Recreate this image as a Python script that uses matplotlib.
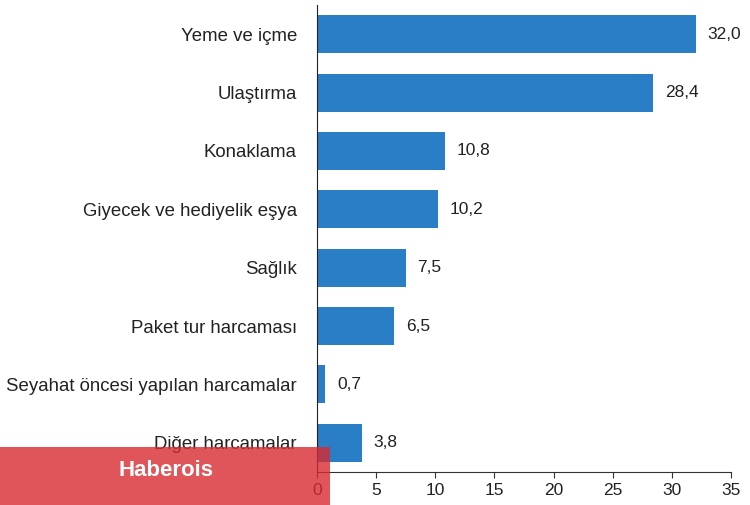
import matplotlib.pyplot as plt
from matplotlib.patches import Rectangle

plt.rcParams['font.family'] = ['Liberation Sans', 'DejaVu Sans']

# harcama turleri ve paylari (%)
categories = ['Yeme ve içme', 'Ulaştırma', 'Konaklama', 'Giyecek ve hediyelik eşya',
              'Sağlık', 'Paket tur harcaması', 'Seyahat öncesi yapılan harcamalar',
              'Diğer harcamalar']
values = [32.0, 28.4, 10.8, 10.2, 7.5, 6.5, 0.7, 3.8]
value_labels = ['32,0', '28,4', '10,8', '10,2', '7,5', '6,5', '0,7', '3,8']
xticks = [0, 5, 10, 15, 20, 25, 30, 35]

fig = plt.figure(figsize=(7.5, 5.05), dpi=100)
ax = fig.add_axes([0.4227, 0.0653, 0.552, 0.9247])

pos = range(len(categories))
ax.barh(pos, values, height=0.65, color='#2A7EC6')
for p, v, lab in zip(pos, values, value_labels):
    ax.text(v + 1.0, p, lab, va='center', ha='left', fontsize=12.5, color='#222222')

ax.set_ylim(len(categories) - 0.5, -0.5)
ax.set_xlim(0, 35)
ax.set_yticks(list(pos))
ax.set_yticklabels(categories, fontsize=13.4, color='#222222')
ax.set_xticks(xticks)
ax.set_xticklabels([str(t) for t in xticks], fontsize=12.5, color='#222222')
ax.tick_params(axis='y', length=0, pad=14.5)
ax.tick_params(axis='x', length=4, direction='out', color='#333333', pad=4)

for s in ['top', 'right']:
    ax.spines[s].set_visible(False)
ax.spines['left'].set_color('#222222')
ax.spines['bottom'].set_color('#333333')

# filigran
fig.patches.append(Rectangle((0, 0), 330 / 750, 58 / 505, transform=fig.transFigure,
                             facecolor='#D82A31', alpha=0.8, edgecolor='none', zorder=10))
fig.text(166 / 750, (505 - 470) / 505, 'Haberois', color='white', fontsize=16,
         fontweight='bold', ha='center', va='center', zorder=11)

fig.savefig('out.png', dpi=100)
